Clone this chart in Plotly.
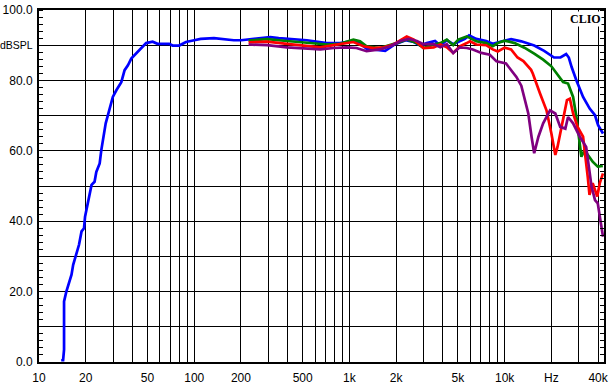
import plotly.graph_objects as go

# ---- data ----
blue_f = [13.9, 14.3, 14.5, 14.5, 15.0, 15.6, 16.2, 16.6, 17.4, 18.1, 18.8, 19.5, 19.8, 20.7, 21.8,
          22.8, 23.4, 24.6, 25.2, 26.9, 28.5, 29.9, 31.5, 33.9, 35.6, 37.4, 39.3, 42.3, 45.5, 49,
          54, 58, 69, 72.5, 80, 88.5, 100, 110, 134, 160, 180, 200, 242, 280, 309, 350, 396, 532,
          716, 870, 1060, 1170, 1290, 1570, 1700, 1970, 2300, 2600, 2860, 3150, 3560, 3850, 4240,
          4660, 5140, 5540, 5900, 6560, 7600, 8380, 9250, 10000, 11000, 12800, 15500, 17960, 20800,
          22900, 24900, 25900, 27000, 29000, 32000, 35300, 38200, 40000, 43000]
blue_db = [0.5, 0.5, 3.5, 17.2, 20.0, 22.4, 24.8, 27.6, 30.9, 33.3, 37.1, 38.0, 41.3, 45.5, 50.3,
           51.2, 54.0, 56.4, 60.2, 67.8, 71.5, 75.3, 77.2, 79.5, 82.9, 84.3, 86.2, 87.6, 89.0, 90.6,
           91.0, 90.4, 90.4, 89.9, 89.9, 90.9, 91.4, 91.8, 92.0, 91.6, 91.4, 91.4, 91.8, 92.3, 92.3,
           92.0, 91.8, 91.4, 90.6, 90.6, 91.2, 90.5, 89.0, 88.6, 88.4, 90.3, 91.4, 90.9, 89.9, 90.6,
           91.2, 89.9, 91.4, 90.3, 91.2, 91.8, 92.8, 91.8, 91.2, 90.4, 90.9, 91.3, 91.7, 91.1, 89.9,
           88.4, 86.5, 86.5, 87.5, 86.5, 83.8, 80.0, 75.3, 72.0, 70.1, 67.3, 64.9]

green_f = [224, 295, 396, 532, 716, 870, 1060, 1170, 1290, 1570, 1730, 2010, 2340, 2720, 3000, 3490,
           3850, 4240, 4660, 5030, 5700, 6560, 7600, 8380, 9030, 10000, 11600, 13400, 15500, 17700,
           20000, 21600, 23800, 25600, 27600, 29000, 30100, 31200, 32700, 34300, 36900, 39800, 42900]
green_db = [91.3, 91.7, 91.2, 90.6, 90.2, 90.4, 91.6, 91.1, 89.7, 89.2, 89.7, 90.6, 91.6, 90.6, 89.2,
            90.2, 90.6, 91.6, 90.0, 91.6, 92.5, 91.1, 90.6, 89.7, 90.6, 91.3, 90.6, 89.3, 87.6, 85.9,
            84.0, 81.9, 79.5, 79.1, 75.3, 69.6, 63.0, 58.3, 60.2, 58.8, 56.9, 55.5, 55.7]

red_f = [224, 295, 396, 532, 650, 790, 960, 1060, 1230, 1430, 1660, 1920, 2340, 2600, 3000, 3490,
         3850, 4240, 4660, 5140, 5700, 5980, 6560, 7600, 8380, 9030, 10000, 11000, 12100, 13200,
         14800, 15200, 16900, 18600, 20000, 21200, 21900, 23300, 25200, 26300, 27600, 29500, 32000,
         34300, 35200, 36900, 39500, 41000, 43000]
red_db = [90.8, 91.0, 90.4, 89.7, 89.4, 90.0, 90.6, 90.9, 89.7, 89.2, 89.4, 90.2, 92.5, 91.6, 89.2,
          89.4, 90.2, 89.4, 87.8, 89.7, 90.6, 91.1, 90.2, 90.0, 88.8, 88.2, 89.3, 88.8, 86.5, 85.5,
          83.0, 81.9, 76.3, 71.5, 64.9, 58.8, 61.1, 66.8, 74.4, 74.8, 70.6, 66.8, 64.0, 52.6, 47.5,
          50.8, 47.0, 50.8, 53.6]

purple_f = [224, 295, 396, 532, 650, 790, 960, 1110, 1290, 1570, 1830, 2130, 2410, 2720, 3000, 3490,
            3850, 4240, 4660, 5140, 5700, 6240, 7080, 8020, 8860, 10200, 11000, 11900, 12800, 13200,
            14200, 14900, 15500, 16500, 17700, 19600, 21200, 22800, 24600, 25600, 27600, 30500,
            33500, 36300, 38200, 39800, 40800, 42000, 43000]
purple_db = [90.2, 90.0, 89.4, 89.1, 88.8, 89.2, 89.4, 89.2, 88.3, 88.8, 89.7, 91.2, 91.8, 91.2, 90.3,
             90.3, 89.4, 90.3, 87.8, 89.4, 89.2, 88.8, 87.8, 87.3, 85.4, 84.8, 83.0, 81.0, 78.5, 76.3,
             70.6, 64.0, 59.3, 64.0, 67.8, 71.5, 70.6, 66.8, 66.3, 69.6, 67.8, 64.0, 61.1, 49.8, 46.0,
             45.1, 42.3, 38.0, 35.6]

x_grid = [10, 20, 30, 40, 50, 60, 70, 80, 90,
          100, 200, 300, 400, 500, 600, 700, 800, 900,
          1000, 2000, 3000, 4000, 5000, 6000, 7000, 8000, 9000,
          10000, 20000, 30000, 40000]
x_labels = ["10", "20", "", "", "50", "", "", "", "",
            "100", "200", "", "", "500", "", "", "", "",
            "1k", "2k", "", "", "5k", "", "", "", "",
            "10k", "Hz", "", "40k"]
y_ticks = [0, 10, 20, 30, 40, 50, 60, 70, 80, 90, 100]
y_labels = ["0.0", "", "20.0", "", "40.0", "", "60.0", "", "80.0",
            "<span style=\"font-size:10.5px\">dBSPL</span>", "100.0"]

series = [
    (blue_f, blue_db, "rgb(0,0,255)"),
    (green_f, green_db, "rgb(0,128,0)"),
    (red_f, red_db, "rgb(255,0,0)"),
    (purple_f, purple_db, "rgb(128,0,128)"),
]

fig = go.Figure()
for f, db, col in series:
    fig.add_trace(go.Scatter(x=f, y=db, mode="lines",
                             line=dict(color=col, width=2.7), showlegend=False,
                             hoverinfo="skip"))

font = dict(family="Liberation Sans, Arial, sans-serif", size=12, color="black")

fig.update_layout(
    width=611, height=391,
    margin=dict(l=39, r=7, t=10, b=29),
    paper_bgcolor="white", plot_bgcolor="white",
    font=font,
    xaxis=dict(type="log", range=[1, 4.640], tickvals=x_grid, ticktext=x_labels,
               showgrid=True, gridcolor="black", gridwidth=1, ticks="",
               showline=True, linecolor="black", linewidth=2, mirror=True,
               zeroline=False, tickfont=font, automargin=False, ticklabelstandoff=4),
    yaxis=dict(range=[0, 100], tickvals=y_ticks, ticktext=y_labels,
               showgrid=True, gridcolor="black", gridwidth=1, ticks="",
               showline=True, linecolor="black", linewidth=2, mirror="ticks",
               zeroline=False, tickfont=font, ticklabelstandoff=2, automargin=False,
               minor=dict(dtick=2, ticks="inside", ticklen=4, tickwidth=1,
                          tickcolor="black", showgrid=False)),
    annotations=[dict(text="<b>CLIO</b>", xref="paper", yref="paper", x=1, y=1,
                      xanchor="right", yanchor="top", xshift=-2, yshift=-1,
                      showarrow=False, bgcolor="white", borderpad=0,
                      font=dict(family="Liberation Serif, Times New Roman, serif",
                                size=12, color="black"))],
)

fig.write_html("out.html", config={"displayModeBar": False},
               post_script="document.body.style.margin='0px';")
